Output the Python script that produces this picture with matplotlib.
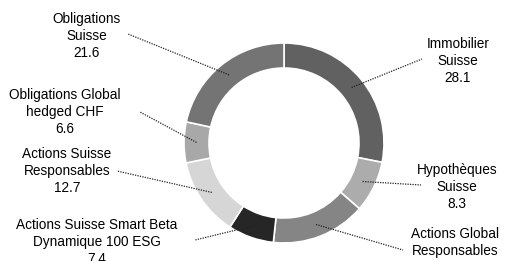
import matplotlib
matplotlib.use("Agg")
import matplotlib.pyplot as plt
import numpy as np

plt.rcParams['font.family'] = ['Liberation Sans', 'DejaVu Sans']

# données (sens horaire depuis le haut)
labels = ["Immobilier\nSuisse", "Hypothèques\nSuisse", "Actions Global\nResponsables",
          "Actions Suisse Smart Beta\nDynamique 100 ESG", "Actions Suisse\nResponsables",
          "Obligations Global\nhedged CHF", "Obligations\nSuisse"]
values = [28.1, 8.3, 15.3, 7.4, 12.7, 6.6, 21.6]
colors = ["#616161", "#acacac", "#858585", "#262626", "#d6d6d6", "#a8a8a8", "#747474"]

# position du texte et fin du trait (en pixels de l'image)
text_px = [(458, 61), (457, 187), (455, 251), (97, 242), (67, 171), (65, 112), (87, 36)]
line_px = [(422, 59), (421, 185), (403, 250), (195, 240), (117, 171), (140, 112), (128, 34)]

W, H = 507, 261
CX, CY, R = 284, 143, 100  # centre et rayon du donut en pixels

fig = plt.figure(figsize=(W / 100, H / 100), dpi=100)
ax = fig.add_axes([0, 0, 1, 1])

def to_data(px, py):
    return (px - CX) / R, (CY - py) / R

wedges, _ = ax.pie(values, colors=colors, startangle=90, counterclock=False,
                   radius=1, wedgeprops=dict(width=0.25, edgecolor='white', linewidth=1.2))

for w, lab, val, tp, lp in zip(wedges, labels, values, text_px, line_px):
    ang = np.deg2rad((w.theta1 + w.theta2) / 2)
    x0, y0 = 0.875 * np.cos(ang), 0.875 * np.sin(ang)
    x1, y1 = to_data(*lp)
    ax.plot([x0, x1], [y0, y1], linestyle=(0, (1, 1)), color='#222222', linewidth=0.9)
    tx, ty = to_data(*tp)
    ax.text(tx, ty, f"{lab}\n{val}", ha='center', va='center', fontsize=9.8,
            color='#000000', linespacing=1.3)

ax.set_xlim(-CX / R, (W - CX) / R)
ax.set_ylim((CY - H) / R, CY / R)
ax.set_aspect('equal')
ax.axis('off')

fig.savefig("out.png", dpi=100)
